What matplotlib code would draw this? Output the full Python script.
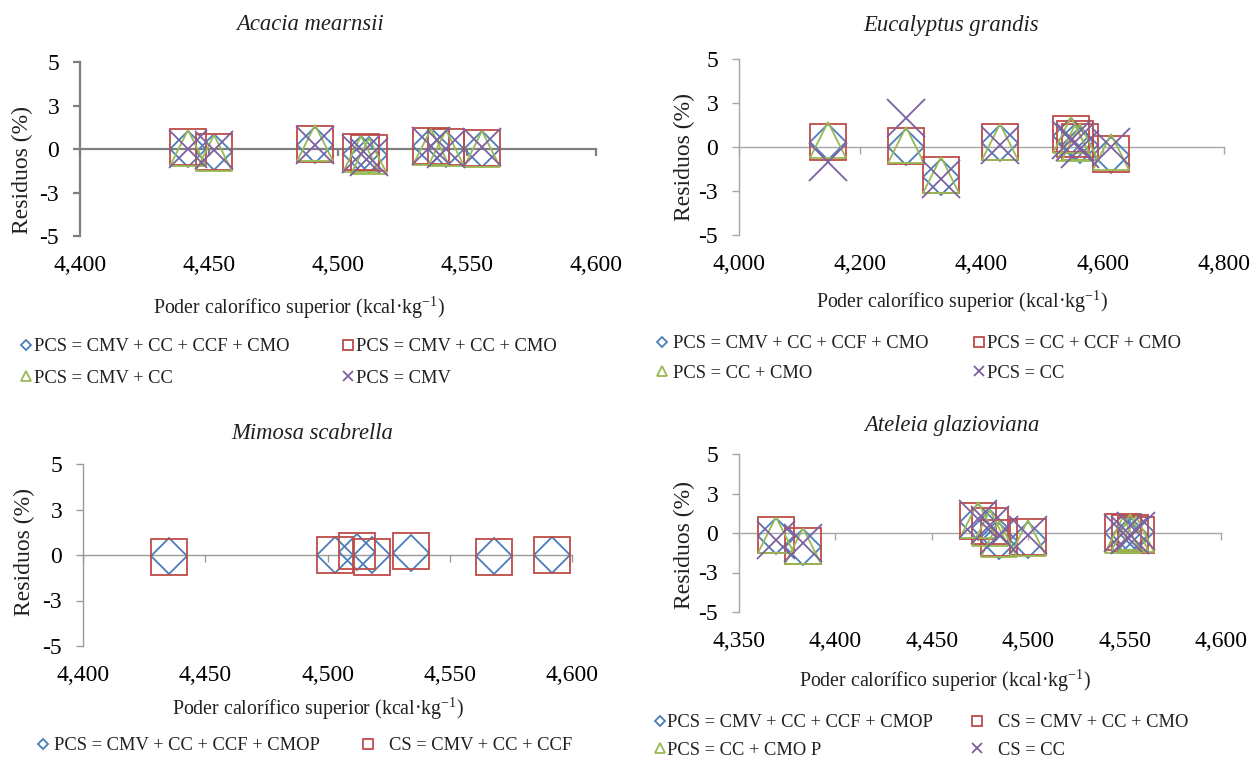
import numpy as np
import matplotlib
matplotlib.use("Agg")
import matplotlib.pyplot as plt
from matplotlib.ticker import FuncFormatter

plt.rcParams['font.family'] = ['Liberation Serif', 'DejaVu Serif']
plt.rcParams['mathtext.fontset'] = 'custom'
plt.rcParams['mathtext.rm'] = 'Liberation Serif'
plt.rcParams['text.color'] = '#231f20'

W, H = 1255, 760

# series colours (Excel 2007 palette)
c_blue = '#4A7EBB'
c_red = '#BE4B48'
c_green = '#98B954'
c_purple = '#7D60A0'

# y ticks: Excel shows 2.5 rounded as 3
ytick_vals = [-5, -2.5, 0, 2.5, 5]
ytick_text = ['-5', '-3', '0', '3', '5']

# --- Acacia mearnsii ---
am_x = [4442, 4452, 4491, 4509, 4512, 4536, 4542, 4556]
am_cmv_cc_ccf_cmo = [0.0, -0.2, 0.25, -0.3, -0.35, 0.15, 0.0, 0.0]
am_cmv_cc_cmo = [0.1, -0.15, 0.3, -0.2, -0.25, 0.2, 0.1, 0.05]
am_cmv_cc = [0.05, -0.25, 0.35, -0.3, -0.4, 0.1, 0.05, 0.0]
am_cmv = [0.0, -0.05, 0.25, -0.3, -0.45, 0.2, 0.0, 0.1]

# --- Eucalyptus grandis ---
eg_x = [4146, 4275, 4334, 4430, 4548, 4555, 4563, 4613]
eg_cmv_cc_ccf_cmo = [0.3, 0.0, -1.7, 0.25, 0.6, 0.3, 0.1, -0.45]
eg_cc_ccf_cmo = [0.3, 0.05, -1.6, 0.3, 0.75, 0.45, 0.3, -0.4]
eg_cc_cmo = [0.4, 0.1, -1.6, 0.3, 0.7, 0.2, 0.3, -0.3]
eg_cc = [-0.85, 1.65, -1.8, 0.1, 0.4, 0.3, -0.1, 0.0]

# --- Mimosa scabrella ---
ms_x = [4435, 4503, 4512, 4518, 4534, 4568, 4592]
ms_cmv_cc_ccf_cmop = [-0.05, 0.0, 0.15, 0.0, 0.1, -0.05, 0.0]
ms_cmv_cc_ccf = [-0.1, 0.0, 0.2, -0.1, 0.2, -0.1, 0.0]

# --- Ateleia glazioviana ---
ag_x = [4369, 4383, 4474, 4480, 4485, 4500, 4549, 4553, 4556]
ag_cmv_cc_ccf_cmop = [-0.2, -0.9, 0.7, 0.3, -0.5, -0.45, 0.0, -0.1, 0.05]
ag_cmv_cc_cmo = [-0.15, -0.83, 0.78, 0.44, -0.32, -0.26, 0.05, 0.0, -0.1]
ag_cc_cmop = [-0.15, -0.83, 0.85, 0.3, -0.4, -0.3, -0.1, 0.05, -0.05]
ag_cc = [-0.45, -0.65, 0.9, 0.5, -0.15, -0.1, 0.0, -0.15, 0.1]

# marker styles: (marker, size in pt, colour)
styles = {
    'D': ('D', 18.8, c_blue),
    's': ('s', 26.5, c_red),
    '^': ('^', 26.5, c_green),
    'x': ('x', 28.0, c_purple),
}

XLABEL = 'Poder calorífico superior (kcal·kg$^{\\mathrm{-1}}$)'

fig = plt.figure(figsize=(W / 100, H / 100), dpi=100)


def px_axes(x0, x1, ytop, ybot):
    return fig.add_axes([x0 / W, 1 - ybot / H, (x1 - x0) / W, (ybot - ytop) / H])


def setup(ax, xmin, xmax, xstep, acol, alw):
    ax.set_xlim(xmin, xmax)
    ax.set_ylim(-5, 5)
    for s in ['top', 'right', 'bottom']:
        ax.spines[s].set_visible(False)
    ax.spines['left'].set_color(acol)
    ax.spines['left'].set_linewidth(alw)
    ax.set_yticks(ytick_vals)
    ax.set_yticklabels(ytick_text)
    ax.tick_params(axis='y', direction='out', length=5, width=alw, color=acol,
                   pad=10, labelsize=17)
    xt = np.arange(xmin, xmax + 1, xstep)
    ax.set_xticks(xt)
    ax.xaxis.set_major_formatter(FuncFormatter(lambda v, p: f'{v:,.0f}'))
    ax.tick_params(axis='x', length=0, pad=14, labelsize=17)
    ax.patch.set_alpha(0)
    # zero line with downward ticks
    sec = ax.secondary_xaxis(0.5)
    sec.set_xticks(xt)
    sec.tick_params(axis='x', direction='in', length=5, width=alw, color=acol,
                    labeltop=False, labelbottom=False)
    for sp in sec.spines.values():
        sp.set_color(acol)
        sp.set_linewidth(alw)


def draw(ax, x, series):
    handles = []
    for key, y in series:
        m, ms, col = styles[key]
        h, = ax.plot(x, y, linestyle='none', marker=m, ms=ms, mfc='none',
                     mec=col, mew=1.3, clip_on=False)
        handles.append(h)
    return handles


def col_legend(handles, labels, mx, tx, row1, spacing):
    fs = 13.3
    fspx = fs * 100 / 72
    hl = 0.6
    left = mx - hl * fspx / 2
    pad = (tx - mx - hl * fspx / 2) / fspx
    th = 16.5
    ls = (spacing - th) / fspx if spacing else 0.5
    fig.legend(handles, labels, loc='upper left',
               bbox_to_anchor=(left / W, 1 - (row1 - th / 2 + 1.5) / H),
               frameon=False, fontsize=fs, markerscale=0.26, handlelength=hl,
               handletextpad=pad, borderpad=0, borderaxespad=0, labelspacing=ls)


def texts(title, tpos, ylpos, xlpos):
    fig.text(tpos[0] / W, 1 - tpos[1] / H, title, style='italic', fontsize=16.3,
             ha='center', va='center')
    fig.text(ylpos[0] / W, 1 - ylpos[1] / H, 'Residuos (%)', rotation=90,
             fontsize=17, ha='center', va='center')
    fig.text(xlpos[0] / W, 1 - xlpos[1] / H, XLABEL, fontsize=14.3,
             ha='center', va='center')


# Panel 1: Acacia mearnsii
ax1 = px_axes(80, 596, 62, 236)
setup(ax1, 4400, 4600, 50, '#7f7f7f', 1.6)
h1 = draw(ax1, am_x, [('D', am_cmv_cc_ccf_cmo), ('s', am_cmv_cc_cmo),
                      ('^', am_cmv_cc), ('x', am_cmv)])
texts('Acacia mearnsii', (310, 25), (22, 170), (299, 308))
col_legend([h1[0], h1[2]], ['PCS = CMV + CC + CCF + CMO', 'PCS = CMV + CC'],
           26, 34, 345, 31)
col_legend([h1[1], h1[3]], ['PCS = CMV + CC + CMO', 'PCS = CMV'],
           348, 356, 345, 31)

# Panel 2: Eucalyptus grandis
ax2 = px_axes(739, 1224, 59, 235)
setup(ax2, 4000, 4800, 200, '#a6a6a6', 1.0)
h2 = draw(ax2, eg_x, [('D', eg_cmv_cc_ccf_cmo), ('s', eg_cc_ccf_cmo),
                      ('^', eg_cc_cmo), ('x', eg_cc)])
texts('Eucalyptus grandis', (951, 25), (684, 157), (962, 302))
col_legend([h2[0], h2[2]], ['PCS = CMV + CC + CCF + CMO', 'PCS = CC + CMO'],
           662, 673, 342, 29)
col_legend([h2[1], h2[3]], ['PCS = CC + CCF + CMO', 'PCS = CC'],
           979, 987, 342, 29)

# Panel 3: Mimosa scabrella
ax3 = px_axes(83, 572, 464, 646)
setup(ax3, 4400, 4600, 50, '#9a9a9a', 1.0)
h3 = draw(ax3, ms_x, [('D', ms_cmv_cc_ccf_cmop), ('s', ms_cmv_cc_ccf)])
texts('Mimosa scabrella', (312, 433), (24, 552), (318, 709))
col_legend([h3[0]], ['PCS = CMV + CC + CCF + CMOP'], 43, 54, 744, None)
col_legend([h3[1]], ['CS = CMV + CC + CCF'], 368, 389, 744, None)

# Panel 4: Ateleia glazioviana
ax4 = px_axes(739, 1221, 454, 612)
setup(ax4, 4350, 4600, 50, '#a6a6a6', 1.0)
h4 = draw(ax4, ag_x, [('D', ag_cmv_cc_ccf_cmop), ('s', ag_cmv_cc_cmo),
                      ('^', ag_cc_cmop), ('x', ag_cc)])
texts('Ateleia glazioviana', (952, 425), (684, 545), (945, 681))
col_legend([h4[0], h4[2]], ['PCS = CMV + CC + CCF + CMOP', 'PCS = CC + CMO P'],
           660, 667, 721, 27)
col_legend([h4[1], h4[3]], ['CS = CMV + CC + CMO', 'CS = CC'],
           977, 998, 721, 27)

fig.savefig('out.png', dpi=100, facecolor='white')
